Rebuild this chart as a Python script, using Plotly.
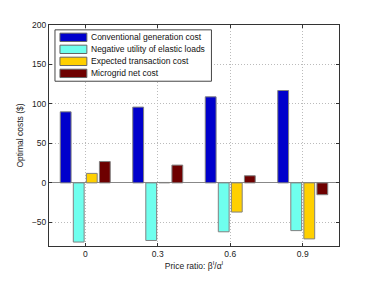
import plotly.graph_objects as go

categories = ["0", "0.3", "0.6", "0.9"]
series_names = [
    "Conventional generation cost",
    "Negative utility of elastic loads",
    "Expected transaction cost",
    "Microgrid net cost",
]
conventional = [90, 96, 109, 117]
neg_utility = [-75, -73, -62, -60.5]
transaction = [12, 0.5, -37, -71]
net_cost = [27, 22.5, 9, -15]
colors = ["#0000CC", "#6FFFEE", "#FFD000", "#6E0000"]

series_values = [conventional, neg_utility, transaction, net_cost]

fig = go.Figure()
for name, vals, c in zip(series_names, series_values, colors):
    fig.add_trace(go.Bar(
        x=categories, y=vals, name=name, showlegend=False,
        marker=dict(color=c, line=dict(color="#808080", width=1)),
    ))

FAM = "Liberation Sans, Arial, sans-serif"
font = dict(family=FAM, size=8.5, color="#222222")

# page body has an 8px margin, compensate
OFF = 8
L, T, R, B = 48, 21, 35, 32
W, H = 374, 281
fig.update_layout(
    width=W - OFF, height=H - OFF,
    margin=dict(l=L - OFF, r=R, t=T - OFF, b=B),
    paper_bgcolor="white", plot_bgcolor="white",
    barmode="group", bargap=0.28, bargroupgap=0.17,
    font=font,
    showlegend=False,
)

# manual MATLAB-style legend box (pixel positions converted to paper units)
pw = W - L - R
ph = H - T - B
def px(x):
    return (x - L) / pw
def py(y):
    return (H - B - y) / ph

shapes = [dict(type="rect", xref="paper", yref="paper",
               x0=px(54), x1=px(211), y0=py(79), y1=py(26),
               line=dict(color="#444444", width=1), fillcolor="white", layer="above")]
annotations = []
row0, step, half = 33.7, 12.4, 4.3
for i, (name, c) in enumerate(zip(series_names, colors)):
    yc = row0 + i * step
    shapes.append(dict(type="rect", xref="paper", yref="paper",
                       x0=px(59), x1=px(86), y0=py(yc + half), y1=py(yc - half),
                       line=dict(color="#666666", width=1), fillcolor=c, layer="above"))
    annotations.append(dict(xref="paper", yref="paper", x=px(88), y=py(yc),
                            xanchor="left", yanchor="middle", showarrow=False,
                            text=name, font=dict(family=FAM, size=8.5, color="#111111")))
fig.update_layout(shapes=shapes, annotations=annotations)

fig.update_xaxes(
    type="category", range=[-0.5, 3.5],
    showline=True, linecolor="#333333", linewidth=1, mirror="ticks",
    ticks="inside", ticklen=3, tickcolor="#333333",
    showgrid=True, gridcolor="#BBBBBB", griddash="1px,2px", gridwidth=1,
    title=dict(text="Price ratio: β<sup>I</sup>/α<sup>I</sup>", font=font, standoff=4),
    zeroline=False,
)
fig.update_yaxes(
    range=[-80, 200], tickvals=[-50, 0, 50, 100, 150, 200],
    ticktext=["\u221250", "0", "50", "100", "150", "200"],
    showline=True, linecolor="#333333", linewidth=1, mirror="ticks",
    ticks="inside", ticklen=3, tickcolor="#333333",
    showgrid=True, gridcolor="#BBBBBB", griddash="1px,2px", gridwidth=1,
    zeroline=True, zerolinecolor="#888888", zerolinewidth=1,
    title=dict(text="Optimal costs ($)", font=font, standoff=6),
)

fig.write_html("out.html")
